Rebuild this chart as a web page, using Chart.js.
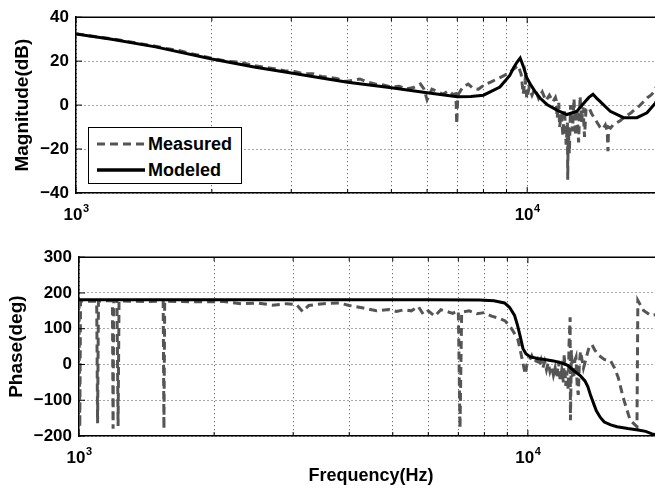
<!DOCTYPE html>
<html>
<head>
<meta charset="utf-8">
<script src="https://cdn.jsdelivr.net/npm/chart.js@4.4.1/dist/chart.umd.min.js"></script>
<style>
  html, body { margin: 0; padding: 0; background: #fff; width: 655px; height: 495px; overflow: hidden; }
  .panel { position: absolute; left: 0; }
  #legend { position: absolute; left: 88px; top: 127px; width: 152px; height: 55px; border: 1px solid #000; background: #fff;
            font: bold 18px "Liberation Sans", Arial, Helvetica, sans-serif; color: #000; }
  #legend svg { position: absolute; left: 8px; }
  #legend span { position: absolute; left: 59px; line-height: 20px; }
</style>
</head>
<body>
<div class="panel" style="top:0"><canvas id="mag" width="680" height="240"></canvas></div>
<div class="panel" style="top:240px"><canvas id="phase" width="680" height="255"></canvas></div>
<div id="legend">
  <svg width="48" height="8" style="top:12px"><line x1="0" y1="4" x2="48" y2="4" stroke="#555" stroke-width="3" stroke-dasharray="8,5"/></svg>
  <span style="top:6px">Measured</span>
  <svg width="48" height="8" style="top:38px"><line x1="0" y1="4" x2="48" y2="4" stroke="#000" stroke-width="3.5"/></svg>
  <span style="top:32px">Modeled</span>
</div>
<script>
// x axis: grid lines at every 1..9 x decade, labels only on decades
const xGridValues = [1000, 2000, 3000, 4000, 5000, 6000, 7000, 8000, 9000, 10000, 20000];
const decadeTicks = [1000, 10000];

// magnitude, modeled
const magFreq = [1000, 1200, 1500, 2000, 2500, 3000, 3500, 4000, 5000, 6000, 7000, 7500, 8000, 8700, 9150, 9330, 9490, 9650,
  9810, 9980, 10150, 10420, 10690, 11060, 11640, 12250, 12890, 13450, 13700, 13990, 14250, 14520, 15280, 16360, 17510, 18430, 19230, 20000];
const magModeled = [32.4, 30.0, 26.5, 21.0, 17.2, 14.6, 12.3, 10.4, 7.9, 5.6, 3.8, 3.9, 4.5, 8.2, 13.5, 17.0, 19.5, 21.4,
  17.5, 12.5, 9.7, 6.0, 3.1, 0.3, -2.3, -4.3, -2.8, 1.6, 3.5, 4.9, 3.2, 1.6, -2.8, -5.7, -5.7, -3.5, 0.9, 6.5];

// magnitude, measured
const magMeasFreq = [1000, 1100, 1200, 1300, 1400, 1500, 1600, 1700, 1800, 1900, 2000, 2150, 2300, 2450, 2600, 2750, 2900, 3050,
  3200, 3350, 3500, 3650, 3800, 3950, 4100, 4260, 4400, 4600, 4800, 5000, 5200, 5400, 5600, 5800, 5900, 6000, 6150, 6300,
  6500, 6700, 6850, 6950, 6980, 7020, 7200, 7400, 7600, 7800, 8000, 8300, 8600, 8900, 9150, 9350, 9550, 9700, 9800, 9900,
  9980, 10100, 10250, 10400, 10600, 10800, 11000, 11200, 11400, 11550, 11600, 11650, 11750, 11800, 11900, 12000, 12100,
  12200, 12280, 12300, 12330, 12400, 12480, 12600, 12700, 12800, 12900, 13000, 13100, 13200, 13300, 13400, 13500,
  13700, 13900, 14100, 14300, 14500, 14700, 14900, 15050, 15100, 15150, 15300, 15500, 15800, 16100, 16400, 16700, 17000,
  17300, 17600, 17900, 18200, 18500, 18800, 19100, 19400, 20000];
const magMeasured = [32.5, 31.2, 30.2, 29.0, 27.8, 26.8, 25.6, 24.8, 23.4, 22.4, 21.3, 20.0, 19.6, 18.2, 17.3, 16.6, 15.6, 15.3,
  14.2, 14.3, 13.0, 12.6, 12.0, 10.8, 11.2, 11.9, 10.6, 9.6, 9.2, 8.2, 8.6, 7.4, 8.0, 9.6, 7.5, 2.4, 7.2, 6.3,
  5.0, 6.5, 4.8, 5.2, -8.7, 4.5, 8.2, 9.6, 7.5, 7.2, 9.0, 10.5, 12.0, 13.5, 15.0, 16.5, 18.0, 14.0, 5.0, 12.0,
  3.0, 8.0, 4.5, 7.5, 3.0, 6.0, 2.0, 4.5, 1.5, 3.5, 2.0, -6.0, 1.0, -10.0, -4.0, -14.0, -2.0,
  -18.0, -8.0, -34.0, -10.0, -22.0, 0.0, -12.0, 3.0, -14.0, -2.0, -17.0, 4.0, -8.0, -1.0, -14.5, -2.0,
  -1.0, -4.0, -6.0, -8.0, -10.0, -11.0, -9.0, -12.0, -21.0, -10.0, -10.5, -9.0, -8.0, -7.0, -5.5, -4.5, -3.5,
  -2.0, -1.0, 0.5, 2.0, 3.5, 4.5, 6.0, 9.0, 12.0];

// phase, modeled
const phaseFreq = [1000, 2000, 4000, 6000, 7800, 8400, 8870, 9100, 9340, 9480, 9600, 9750, 9900, 10100, 10500, 10900, 11400,
  11900, 12300, 12700, 13100, 13400, 13600, 13800, 14000, 14200, 14500, 14800, 15300, 15800, 16700, 17600, 18300, 18900, 20000];
const phaseModeled = [181, 181, 181, 181, 180, 178, 172, 160, 137, 110, 82, 45, 30, 22, 17, 14, 10,
  4, -3, -19, -32, -46, -62, -87, -108, -129, -148, -161, -169, -174, -179, -183, -187, -194, -200];

// phase, measured
const phaseMeasFreq = [1000, 1004, 1008, 1050, 1095, 1100, 1105, 1150, 1187, 1191, 1195, 1215, 1222, 1228, 1300, 1400, 1540,
  1546, 1552, 1700, 1900, 2100, 2300, 2500, 2700, 2900, 3050, 3150, 3250, 3500, 3800, 4000, 4300, 4600, 4900, 5100, 5300,
  5500, 5700, 5850, 6000, 6200, 6400, 6600, 6800, 7000, 7060, 7120, 7400, 7700, 8000, 8300, 8600, 8900, 9050, 9200, 9350,
  9500, 9650, 9800, 9870, 9950, 10050, 10200, 10350, 10500, 10600, 10700, 10800, 10900, 11000, 11100, 11200, 11300, 11400,
  11500, 11600, 11700, 11800, 11900, 12000, 12050, 12150, 12200, 12300, 12350, 12420, 12440, 12500, 12580, 12650, 12720,
  12800, 12880, 12950, 13020, 13100, 13300, 13500, 13700, 13900, 14100, 14400, 14800, 15300, 15600, 15900, 16300, 16900,
  17500, 17580, 18100, 18800, 19500, 20000];
const phaseMeasured = [178, -175, 178, 177, 177, -164, 177, 178, 178, -180, 178, 178, -172, 178, 177, 176, 177,
  -180, 177, 176, 175, 176, 170, 172, 166, 170, 168, 148, 165, 170, 172, 165, 158, 150, 154, 148, 153,
  150, 162, 140, 150, 135, 153, 148, 143, 150, -178, 146, 150, 142, 145, 135, 130, 122, 110, 100, 85,
  70, 31, -10, -27, 0, 9, 25, 5, 15, -5, 12, -10, 8, -15, 5, -20, -5, -30,
  -10, -38, 10, -45, -15, -50, 30, -60, -20, -70, 55, 132, -156, 40, -30, -40, 10,
  20, -60, -85, 0, 37, -10, 20, 50, 55, 40, 25, 14, 9, -10, -37, -92, -156,
  -174, 179, 151, 137, 140, 145];

const FONT = '"Liberation Sans", Arial, Helvetica, sans-serif';
const GRID = 'rgba(0,0,0,0.7)';

const pts = (xs, ys) => xs.map((x, i) => ({ x: x, y: ys[i] }));

// box top/right edges, inward ticks, 10^n labels
const framePlugin = {
  id: 'frame',
  afterDraw(chart) {
    const { ctx, chartArea: a, scales: { x, y } } = chart;
    ctx.save();
    ctx.strokeStyle = '#000';
    ctx.lineWidth = 1.5;
    ctx.beginPath();
    ctx.moveTo(a.left, a.top);
    ctx.lineTo(a.right, a.top);
    ctx.lineTo(a.right, a.bottom);
    ctx.stroke();

    ctx.lineWidth = 1;
    ctx.beginPath();
    x.ticks.forEach(t => {
      const px = x.getPixelForValue(t.value);
      const len = decadeTicks.includes(t.value) ? 6 : 4;
      ctx.moveTo(px, a.bottom); ctx.lineTo(px, a.bottom - len);
      ctx.moveTo(px, a.top); ctx.lineTo(px, a.top + len);
    });
    y.ticks.forEach(t => {
      const py = y.getPixelForValue(t.value);
      ctx.moveTo(a.left, py); ctx.lineTo(a.left + 6, py);
    });
    ctx.stroke();

    ctx.fillStyle = '#000';
    decadeTicks.forEach(v => {
      const px = x.getPixelForValue(v);
      const exp = String(Math.round(Math.log10(v)));
      ctx.font = 'bold 17px ' + FONT;
      const w1 = ctx.measureText('10').width;
      ctx.font = 'bold 11px ' + FONT;
      const w2 = ctx.measureText(exp).width;
      const left = px - (w1 + w2) / 2;
      ctx.textAlign = 'left';
      ctx.textBaseline = 'alphabetic';
      ctx.font = 'bold 17px ' + FONT;
      ctx.fillText('10', left, a.bottom + 27);
      ctx.font = 'bold 11px ' + FONT;
      ctx.fillText(exp, left + w1 + 0.5, a.bottom + 19);
    });
    ctx.restore();
  }
};

function bodeChart(id, opt) {
  return new Chart(document.getElementById(id), {
    type: 'line',
    data: {
      datasets: [
        { label: 'Modeled', data: opt.modeled, borderColor: '#000', borderWidth: 3, pointRadius: 0, tension: 0 },
        { label: 'Measured', data: opt.measured, borderColor: '#555', borderWidth: 3, borderDash: [8, 5], pointRadius: 0, tension: 0 }
      ]
    },
    options: {
      responsive: false,
      animation: false,
      layout: { padding: { top: opt.padTop, right: 17, left: 0, bottom: 0 } },
      plugins: { legend: { display: false }, tooltip: { enabled: false } },
      scales: {
        x: {
          type: 'logarithmic',
          min: 1000,
          max: 20000,
          afterBuildTicks: s => { s.ticks = xGridValues.map(v => ({ value: v })); },
          afterFit: s => { s.height = opt.xAxisHeight; },
          ticks: { display: false },
          grid: { color: GRID, lineWidth: 1, drawTicks: false },
          border: { display: true, color: '#000', width: 1.5, dash: [1, 3] },
          title: {
            display: !!opt.xTitle,
            text: opt.xTitle || '',
            color: '#000',
            font: { family: FONT, size: 18, weight: 'bold' },
            padding: { top: 0, bottom: 8 }
          }
        },
        y: {
          min: opt.yMin,
          max: opt.yMax,
          afterFit: s => { s.width = opt.axisLeft; },
          ticks: {
            stepSize: opt.yStep,
            color: '#000',
            padding: 7,
            font: { family: FONT, size: 17, weight: 'bold' },
            callback: v => String(v).replace('-', '\u2212')
          },
          grid: { color: GRID, lineWidth: 1, drawTicks: false },
          border: { display: true, color: '#000', width: 1.5, dash: [1, 3] },
          title: {
            display: true,
            text: opt.yTitle,
            color: '#000',
            font: { family: FONT, size: 19, weight: 'bold' },
            padding: { top: opt.titlePad, bottom: 0 }
          }
        }
      }
    },
    plugins: [framePlugin]
  });
}

bodeChart('mag', {
  modeled: pts(magFreq, magModeled),
  measured: pts(magMeasFreq, magMeasured),
  yMin: -40, yMax: 40, yStep: 20,
  yTitle: 'Magnitude(dB)',
  axisLeft: 76, padTop: 11, xAxisHeight: 47, titlePad: 11
});

bodeChart('phase', {
  modeled: pts(phaseFreq, phaseModeled),
  measured: pts(phaseMeasFreq, phaseMeasured),
  yMin: -200, yMax: 300, yStep: 100,
  yTitle: 'Phase(deg)',
  xTitle: 'Frequency(Hz)',
  axisLeft: 79, padTop: 14, xAxisHeight: 59, titlePad: 5
});
</script>
</body>
</html>
